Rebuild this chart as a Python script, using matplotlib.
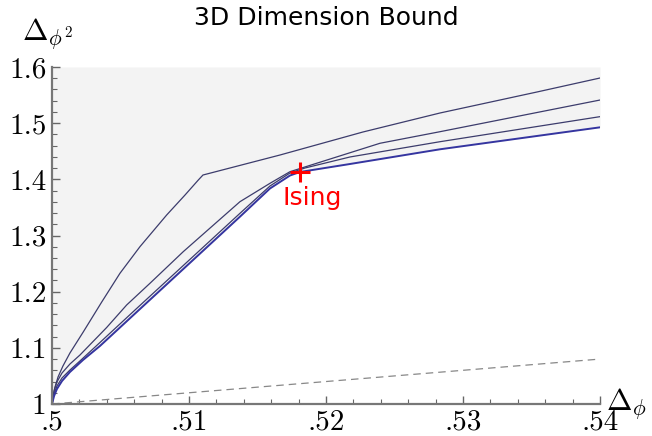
import numpy as np
import matplotlib
matplotlib.use("Agg")
import matplotlib.pyplot as plt
from matplotlib.ticker import MultipleLocator

plt.rcParams['mathtext.fontset'] = 'cm'

# --- data ---
c1_x = [0.5, 0.50007, 0.50022, 0.50044, 0.5008, 0.50131, 0.50228, 0.50363, 0.50496, 0.50642,
        0.50837, 0.50971, 0.51068, 0.51102, 0.51664, 0.5227, 0.52832, 0.5354, 0.54]
c1_y = [1.0, 1.0142, 1.0303, 1.0481, 1.0677, 1.0908, 1.1282, 1.1816, 1.2327, 1.2801,
        1.3365, 1.3721, 1.3988, 1.4077, 1.4433, 1.4843, 1.5181, 1.5555, 1.5804]

c2_x = [0.5, 0.50015, 0.50036, 0.50073, 0.50131, 0.50204, 0.50399, 0.50545, 0.50715, 0.50958,
        0.51372, 0.51591, 0.51737, 0.52394, 0.52832, 0.54]
c2_y = [1.0, 1.0231, 1.0392, 1.0552, 1.0712, 1.0872, 1.1362, 1.1763, 1.2149, 1.2712,
        1.3602, 1.3929, 1.4136, 1.4642, 1.4848, 1.5412]

c3_x = [0.5, 0.50015, 0.50036, 0.50073, 0.50131, 0.50204, 0.5035, 0.50606, 0.51372, 0.51591,
        0.51737, 0.51847, 0.52175, 0.52832, 0.54]
c3_y = [1.0, 1.0178, 1.032, 1.0463, 1.0605, 1.0766, 1.1095, 1.1674, 1.3395, 1.3881,
        1.4113, 1.4202, 1.4398, 1.4670, 1.5116]

c4_x = [0.5, 0.50015, 0.50036, 0.50073, 0.50131, 0.50226, 0.5035, 0.50496, 0.50642, 0.51372,
        0.51591, 0.51737, 0.5181, 0.52175, 0.52832, 0.54]
c4_y = [1.0, 1.0142, 1.0267, 1.0409, 1.057, 1.0783, 1.1033, 1.1362, 1.1691, 1.3335,
        1.3837, 1.4068, 1.4131, 1.4273, 1.4535, 1.4926]

free_x = [0.5, 0.54]
free_y = [1.0, 1.08]

ising_x, ising_y = 0.5181, 1.4126

xticks = [0.5, 0.51, 0.52, 0.53, 0.54]
xticklabels = ['.5', '.51', '.52', '.53', '.54']
yticks = [1.0, 1.1, 1.2, 1.3, 1.4, 1.5, 1.6]
yticklabels = ['1', '1.1', '1.2', '1.3', '1.4', '1.5', '1.6']

# --- figure ---
fig = plt.figure(figsize=(6.52, 4.36), dpi=100)
ax = fig.add_axes([52/652, 1-404/436, 548/652, 337/436])

ax.fill_between(c4_x, c4_y, 1.6, color='#f3f3f3', lw=0, zorder=0)

navy = '#3c3c6c'
ax.plot(c1_x, c1_y, color=navy, lw=0.9)
ax.plot(c2_x, c2_y, color=navy, lw=0.9)
ax.plot(c3_x, c3_y, color=navy, lw=0.9)
ax.plot(c4_x, c4_y, color='#3535a0', lw=1.4)
ax.plot(free_x, free_y, color='#888888', lw=0.9, dashes=(6, 4))

ax.plot([ising_x], [ising_y], marker='+', color='red', ms=15, mew=2.2, zorder=5)
ax.text(ising_x + 0.0009, ising_y - 0.024, 'Ising', color='red', fontsize=18,
        ha='center', va='top', family='DejaVu Sans')

ax.set_xlim(0.5, 0.54)
ax.set_ylim(1.0, 1.6)
ax.set_xticks(xticks)
ax.set_xticklabels(xticklabels, fontsize=21, family='cmr10')
ax.set_yticks(yticks)
ax.set_yticklabels(yticklabels, fontsize=21, family='cmr10')
ax.xaxis.set_minor_locator(MultipleLocator(0.002))
ax.yaxis.set_minor_locator(MultipleLocator(0.02))
ax.tick_params(which='both', direction='in', color='#666666')
ax.tick_params(which='major', length=6, width=1)
ax.tick_params(which='minor', length=3.5, width=0.8)
ax.tick_params(axis='x', pad=4)
ax.tick_params(axis='y', pad=4)

for s in ['top', 'right']:
    ax.spines[s].set_visible(False)
for s in ['left', 'bottom']:
    ax.spines[s].set_color('#777777')
    ax.spines[s].set_linewidth(1.6)

fig.text(326/652, 1-18/436, '3D Dimension Bound', ha='center', va='center', fontsize=18, family='DejaVu Sans')
fig.text(22/652, 1-34/436, r'$\Delta_{\phi^2}$', ha='left', va='center', fontsize=22)
fig.text(606/652, 1-404/436, r'$\Delta_{\phi}$', ha='left', va='center', fontsize=22)

fig.savefig('out.png', dpi=100)
